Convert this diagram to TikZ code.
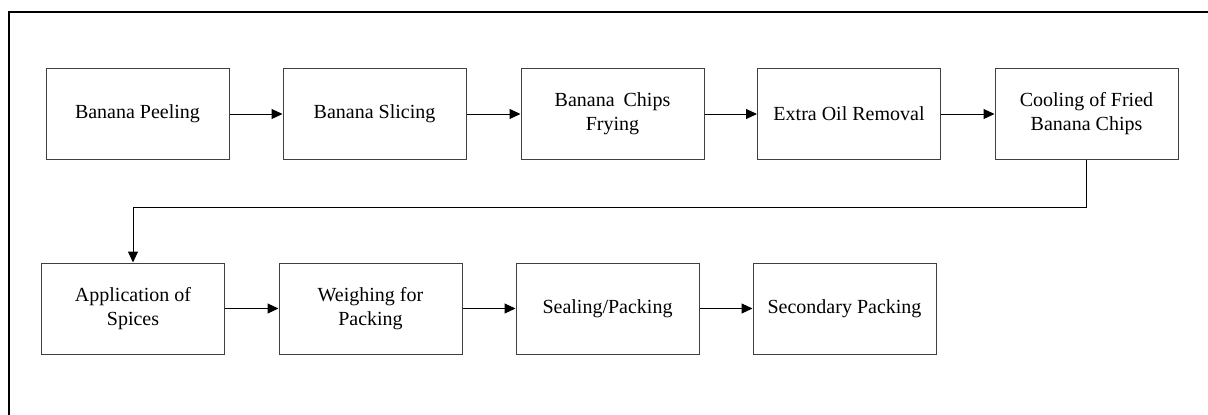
\documentclass[tikz,border=0pt]{standalone}
\usepackage{fontspec}
\setmainfont{Liberation Serif}
\usetikzlibrary{arrows.meta}
\begin{document}
\begin{tikzpicture}[x=1pt,y=-1pt,
  stepbox/.style={draw=black!75, line width=1pt, minimum width=183pt, minimum height=91pt,
    inner sep=0pt, align=center, font=\fontsize{20}{24}\selectfont},
  flow/.style={draw=black, line width=1pt, -{Triangle[length=11pt,width=10pt]}}]
\useasboundingbox (0,0) rectangle (1208,415);
\fill[white] (0,0) rectangle (1208,415);
\draw[line width=2pt] (9,416) -- (9,12) -- (1209,12);
\node[stepbox] (b1) at (137.5,114) {Banana Peeling};
\node[stepbox] (b2) at (374.5,114) {Banana Slicing};
\node[stepbox] (b3) at (612.5,114) {Banana\hspace{0.2em} Chips\\Frying};
\node[stepbox] (b4) at (849,114) {Extra Oil Removal};
\node[stepbox] (b5) at (1086.5,114) {Cooling of Fried\\Banana Chips};
\node[stepbox] (b6) at (133,308.5) {Application of\\Spices};
\node[stepbox] (b7) at (370.5,308.5) {Weighing for\\Packing};
\node[stepbox] (b8) at (607.5,308.5) {Sealing/Packing};
\node[stepbox] (b9) at (844.5,308.5) {Secondary Packing};
\draw[flow] (b1) -- (b2);
\draw[flow] (b2) -- (b3);
\draw[flow] (b3) -- (b4);
\draw[flow] (b4) -- (b5);
\coordinate (t1) at (1086.5,207);
\coordinate (t2) at (133,207);
\draw[flow] (b5.south) -- (t1) -- (t2) -- (b6.north);
\draw[flow] (b6) -- (b7);
\draw[flow] (b7) -- (b8);
\draw[flow] (b8) -- (b9);
\end{tikzpicture}
\end{document}
